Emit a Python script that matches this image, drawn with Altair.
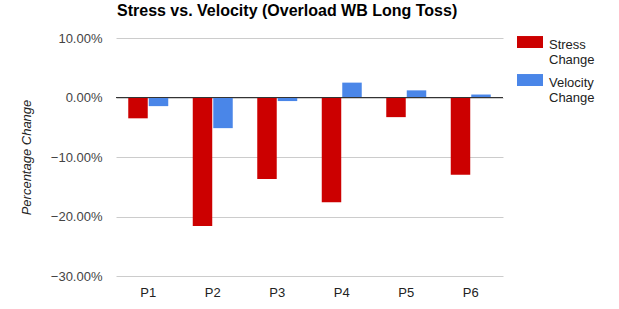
import altair as alt
import pandas as pd

players = ["P1", "P2", "P3", "P4", "P5", "P6"]
series = ["Stress Change", "Velocity Change"]
stress = [-0.035, -0.216, -0.137, -0.176, -0.033, -0.130]
velocity = [-0.0145, -0.0515, -0.006, 0.025, 0.012, 0.005]
y_ticks = [-0.3, -0.2, -0.1, 0.0, 0.1]
colors = ["#cc0000", "#4a86e8"]

rows = []
for p, s, v in zip(players, stress, velocity):
    rows.append({"player": p, "series": series[0], "value": s})
    rows.append({"player": p, "series": series[1], "value": v})
df = pd.DataFrame(rows)

FONT = "Liberation Sans"

bars = alt.Chart(df).mark_bar().encode(
    x=alt.X("player:N", sort=players,
            scale=alt.Scale(paddingInner=0.38, paddingOuter=0.19),
            axis=alt.Axis(title=None, labelAngle=0, domain=False, ticks=False,
                          labelPadding=10, labelFontSize=13, labelColor="#222",
                          labelFont=FONT, grid=False)),
    xOffset=alt.XOffset("series:N", sort=series,
                        scale=alt.Scale(paddingInner=0.05)),
    y=alt.Y("value:Q",
            scale=alt.Scale(domain=[-0.3, 0.1], nice=False, zero=False),
            axis=alt.Axis(title="Percentage Change", format=".2%", values=y_ticks,
                          domain=False, ticks=False, labelPadding=14,
                          labelFontSize=13, labelColor="#444", labelFont=FONT,
                          gridColor="#cccccc", gridWidth=1,
                          titleFont=FONT, titleFontSize=13, titleFontStyle="italic",
                          titleFontWeight="normal", titleColor="#222",
                          titleAngle=-90, titleX=-90, titleY=119,
                          titleAlign="center", titleBaseline="middle")),
    color=alt.Color("series:N", sort=series,
                    scale=alt.Scale(domain=series, range=colors),
                    legend=alt.Legend(
                        title=None, orient="none", legendX=401, legendY=-6,
                        padding=0, symbolType="M-1,-0.69H1V0.23H-1Z",
                        symbolSize=676, symbolStrokeWidth=0,
                        labelExpr="split(datum.label, ' ')",
                        labelFont=FONT, labelFontSize=13, labelColor="#222",
                        labelBaseline="middle",
                        labelOffset=6, rowPadding=3)),
)

zero = alt.Chart(df).mark_rule(color="#333333", strokeWidth=1).encode(
    y=alt.datum(0)
)

chart = alt.layer(bars, zero).properties(
    width=387, height=238,
    title=alt.TitleParams("Stress vs. Velocity (Overload WB Long Toss)",
                          anchor="start", frame="group", dx=1, offset=13,
                          font=FONT, fontSize=16, fontWeight="bold",
                          color="#000"),
    autosize=alt.AutoSizeParams(type="none"),
    padding={"left": 116, "top": 38, "right": 116, "bottom": 33},
).configure(background="white").configure_view(strokeWidth=0)

chart.save("out.html", embed_options={"renderer": "svg", "actions": False})
